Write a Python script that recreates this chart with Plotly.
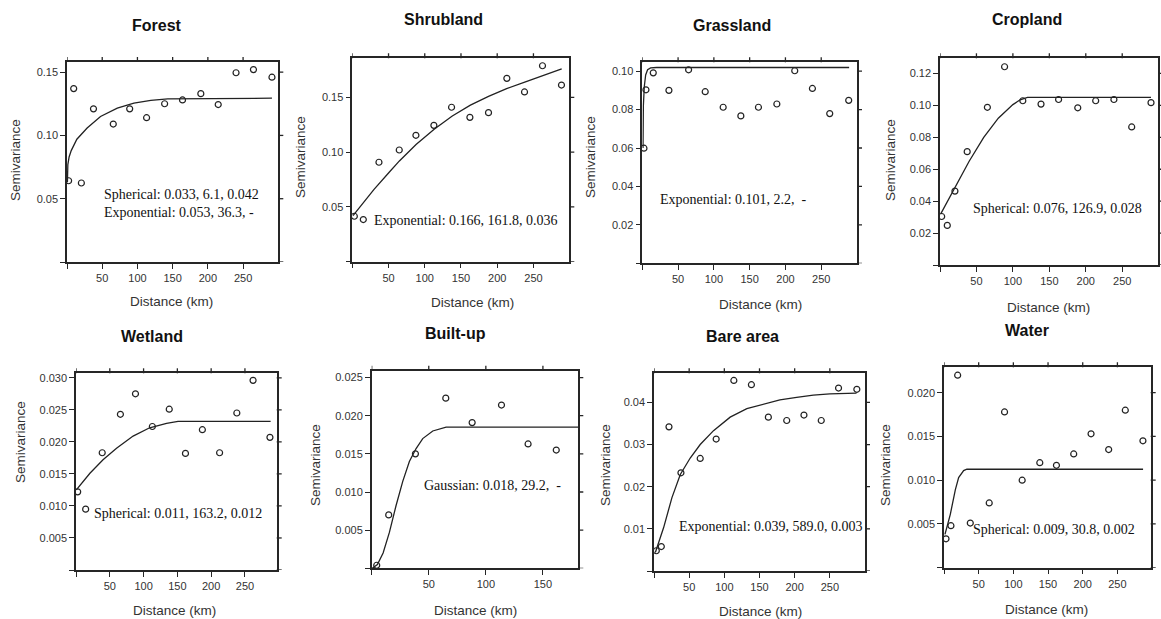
import plotly.graph_objects as go

W, H = 1161, 619

# ---------------- data ----------------
titles = ["Forest", "Shrubland", "Grassland", "Cropland",
          "Wetland", "Built-up", "Bare area", "Water"]

model_texts = [
    "Spherical: 0.033, 6.1, 0.042<br>Exponential: 0.053, 36.3, -",
    "Exponential: 0.166, 161.8, 0.036",
    "Exponential: 0.101, 2.2,  -",
    "Spherical: 0.076, 126.9, 0.028",
    "Spherical: 0.011, 163.2, 0.012",
    "Gaussian: 0.018, 29.2,  -",
    "Exponential: 0.039, 589.0, 0.003",
    "Spherical: 0.009, 30.8, 0.002",
]

forest_dist = [2.3, 9.5, 20.4, 37.6, 65.7, 89, 113, 138.6, 164, 190, 214.7, 240, 264.7, 291]
forest_gamma = [0.0642, 0.137, 0.0624, 0.121, 0.109, 0.121, 0.114, 0.125, 0.128, 0.133, 0.1244, 0.1495, 0.152, 0.146]
forest_line_d = [0.6, 1.2, 3, 6, 14, 28.6, 47.6, 71.4, 95, 119, 143, 171, 291]
forest_line_g = [0.063, 0.077, 0.083, 0.088, 0.097, 0.1058, 0.115, 0.1216, 0.1255, 0.1277, 0.1288, 0.129, 0.1294]

shrub_dist = [2.8, 15.2, 36.8, 64.8, 87.8, 112.6, 137, 162.3, 188, 213.3, 237.7, 262.5, 288.7]
shrub_gamma = [0.0415, 0.0385, 0.0908, 0.102, 0.1154, 0.1245, 0.141, 0.1318, 0.1361, 0.1674, 0.155, 0.1789, 0.1613]
shrub_line_d = [1, 15, 30, 50, 65, 88, 113, 138, 163, 188, 213, 238, 263, 289]
shrub_line_g = [0.042, 0.054, 0.066, 0.081, 0.092, 0.107, 0.121, 0.133, 0.143, 0.151, 0.158, 0.164, 0.170, 0.176]

grass_dist = [2.3, 5.1, 15.3, 37.2, 64.7, 87.9, 113, 137.7, 162.3, 188, 213, 237.7, 261.9, 288.4]
grass_gamma = [0.0599, 0.0903, 0.0991, 0.09, 0.1007, 0.0893, 0.0812, 0.0767, 0.0812, 0.0829, 0.1002, 0.091, 0.0779, 0.0848]
grass_line_d = [1.0, 1.5, 2.8, 4.7, 7.4, 11.6, 20, 289]
grass_line_g = [0.060, 0.082, 0.092, 0.098, 0.1007, 0.1017, 0.1019, 0.1019]

crop_dist = [2.3, 10, 20.5, 37.3, 65, 88.6, 113.6, 138.6, 162.7, 189, 213.6, 238.6, 263, 289.5]
crop_gamma = [0.0304, 0.0248, 0.0463, 0.071, 0.0988, 0.1242, 0.1029, 0.1008, 0.1037, 0.0985, 0.1029, 0.1037, 0.0865, 0.1017]
crop_line_d = [1, 20, 40, 60, 80, 100, 110, 120, 289.5]
crop_line_g = [0.032, 0.048, 0.065, 0.080, 0.092, 0.1005, 0.1035, 0.105, 0.105]

wet_dist = [2.5, 14.3, 38.8, 65.7, 88, 113, 138, 162, 187, 212.5, 238, 262, 287]
wet_gamma = [0.0122, 0.0095, 0.0183, 0.0243, 0.0275, 0.0224, 0.0251, 0.0182, 0.0219, 0.0183, 0.0245, 0.0296, 0.0207]
wet_line_d = [0.5, 20.6, 40, 60, 84.5, 109, 134, 151, 288]
wet_line_g = [0.0125, 0.0151, 0.0172, 0.0190, 0.0209, 0.0222, 0.0229, 0.0232, 0.0232]

built_dist = [4.4, 14.9, 38.3, 64.9, 88, 113.7, 137, 161.7]
built_gamma = [0.0004, 0.0070, 0.0150, 0.0223, 0.0191, 0.0214, 0.0163, 0.0155]
built_line_d = [0.5, 5, 10, 15.5, 21.3, 27.2, 33, 38.9, 44.7, 53.5, 65.2, 181]
built_line_g = [0.0000, 0.0005, 0.0020, 0.0047, 0.0082, 0.0114, 0.0140, 0.0157, 0.0170, 0.0180, 0.0185, 0.0185]

bare_dist = [3.3, 10.4, 21.3, 38.3, 65.7, 88.4, 113.5, 138.5, 162.6, 188.7, 213.2, 237.8, 262.4, 288.4]
bare_gamma = [0.0048, 0.0058, 0.0342, 0.0233, 0.0267, 0.0313, 0.0452, 0.0442, 0.0365, 0.0357, 0.0370, 0.0357, 0.0434, 0.0431]
bare_line_d = [1.9, 13.7, 25.5, 37.4, 51.5, 65.7, 84.6, 108.3, 132, 155.6, 179, 202.8, 226.5, 250, 288]
bare_line_g = [0.0044, 0.0103, 0.0174, 0.0229, 0.0268, 0.0300, 0.0333, 0.0365, 0.0385, 0.0396, 0.0406, 0.0412, 0.0417, 0.0420, 0.0422]

water_dist = [2.9, 10, 19.7, 37.9, 65.2, 87.3, 112.7, 138.1, 162.1, 187, 212, 237.4, 261.4, 286.8]
water_gamma = [0.0033, 0.0048, 0.0220, 0.0051, 0.0074, 0.0178, 0.0100, 0.0120, 0.0117, 0.0130, 0.0153, 0.0135, 0.0180, 0.0145]
water_line_d = [1.4, 9.1, 16.3, 21.1, 28.3, 33, 287]
water_line_g = [0.0038, 0.0061, 0.0089, 0.0103, 0.0111, 0.01125, 0.01125]

# tick values / labels
x_ticks_300 = [0, 50, 100, 150, 200, 250]
x_ticks_180 = [0, 50, 100, 150]
y_ticks = [
    ([0, 0.05, 0.10, 0.15], ["", "0.05", "0.10", "0.15"]),
    ([0, 0.05, 0.10, 0.15], ["", "0.05", "0.10", "0.15"]),
    ([0, 0.02, 0.04, 0.06, 0.08, 0.10], ["", "0.02", "0.04", "0.06", "0.08", "0.10"]),
    ([0, 0.02, 0.04, 0.06, 0.08, 0.10, 0.12], ["", "0.02", "0.04", "0.06", "0.08", "0.10", "0.12"]),
    ([0, 0.005, 0.010, 0.015, 0.020, 0.025, 0.030], ["", "0.005", "0.010", "0.015", "0.020", "0.025", "0.030"]),
    ([0, 0.005, 0.010, 0.015, 0.020, 0.025], ["", "0.005", "0.010", "0.015", "0.020", "0.025"]),
    ([0, 0.01, 0.02, 0.03, 0.04], ["", "0.01", "0.02", "0.03", "0.04"]),
    ([0, 0.005, 0.010, 0.015, 0.020], ["", "0.005", "0.010", "0.015", "0.020"]),
]

series = [
    (forest_dist, forest_gamma, forest_line_d, forest_line_g),
    (shrub_dist, shrub_gamma, shrub_line_d, shrub_line_g),
    (grass_dist, grass_gamma, grass_line_d, grass_line_g),
    (crop_dist, crop_gamma, crop_line_d, crop_line_g),
    (wet_dist, wet_gamma, wet_line_d, wet_line_g),
    (built_dist, built_gamma, built_line_d, built_line_g),
    (bare_dist, bare_gamma, bare_line_d, bare_line_g),
    (water_dist, water_gamma, water_line_d, water_line_g),
]

# ---------------- layout (pixel geometry) ----------------
boxes = [
    (67, 278.3, 62, 262, [0, 300], [0, 0.158]),
    (352.3, 569.3, 58.3, 261.7, [0, 299.5], [0, 0.1857]),
    (642.3, 857, 62.3, 263.3, [0, 300], [0, 0.1046]),
    (940, 1158.3, 58.3, 265, [0, 299.5], [0, 0.1295]),
    (76, 276.7, 373.3, 570, [0, 297], [0, 0.0307]),
    (371.7, 578.3, 370.7, 568.3, [0, 181], [0, 0.0259]),
    (654, 865, 373.3, 571, [0, 300], [0, 0.0469]),
    (944, 1150.7, 367.3, 567.7, [0, 298], [0, 0.0229]),
]
title_pos = [(156.7, 25), (443.3, 20), (731.7, 25), (1026.7, 20),
             (151.7, 336.7), (455, 333.3), (742.7, 336.7), (1026.7, 330)]
xlabel_pos = [(171.7, 301.7), (472.7, 302.7), (760, 305), (1048, 307),
              (175, 610), (475, 610), (760, 611), (1046.7, 609)]
ylabel_pos = [(15, 160), (300, 157), (590, 157), (890, 160),
              (20, 442), (315, 465), (605, 465), (885, 465)]
text_pos = [(101.7, 203.5), (371.7, 220.7), (657.7, 199.3), (970.7, 208.3),
            (91.7, 513.3), (421.7, 485), (676.7, 526.7), (970.7, 529)]

INK = "#222222"
AXC = "#262626"
TICKLEN = 5
SANS = "Liberation Sans, Arial, sans-serif"
SERIF = "Liberation Serif, Times New Roman, serif"

fig = go.Figure()
layout = dict(
    width=W, height=H, margin=dict(l=0, r=0, t=0, b=0),
    paper_bgcolor="white", plot_bgcolor="white", showlegend=False,
)
annotations = []
shapes = []


def px(x):
    return x / W


def py(y):
    return 1 - y / H


for i in range(8):
    L, R, T, B, xr, yr = boxes[i]
    d, g, ld, lg = series[i]
    k = "" if i == 0 else str(i + 1)
    xa, ya = "x" + k, "y" + k
    fig.add_trace(go.Scatter(x=ld, y=lg, mode="lines", xaxis=xa, yaxis=ya,
                             line=dict(color=INK, width=1.3), hoverinfo="skip"))
    fig.add_trace(go.Scatter(x=d, y=g, mode="markers", xaxis=xa, yaxis=ya,
                             marker=dict(symbol="circle-open", size=6, color=INK,
                                         line=dict(width=1.2, color=INK)),
                             cliponaxis=False))
    xt = x_ticks_180 if i == 5 else x_ticks_300
    yv, yt = y_ticks[i]
    common = dict(showline=True, linecolor=AXC, linewidth=1.5, mirror=True,
                  ticks="outside", ticklen=TICKLEN, tickwidth=1.3, tickcolor=AXC,
                  showgrid=False, zeroline=False, automargin=False,
                  tickfont=dict(family=SANS, size=11, color="#333333"))
    layout["xaxis" + k] = dict(domain=[px(L), px(R)], range=xr, anchor=ya,
                               tickvals=xt, ticktext=[("" if v == 0 else str(v)) for v in xt],
                               **common)
    layout["yaxis" + k] = dict(domain=[py(B), py(T)], range=yr, anchor=xa,
                               tickvals=yv, ticktext=yt, **common)
    # mirrored tick marks on the top and right edges (lattice style)
    hpx, wpx = (B - T), (R - L)
    for v in xt:
        shapes.append(dict(type="line", xref=xa, yref=ya + " domain",
                           x0=v, x1=v, y0=1, y1=1 + TICKLEN / hpx,
                           line=dict(color=AXC, width=1.3), layer="above"))
    for v in yv:
        shapes.append(dict(type="line", xref=xa + " domain", yref=ya,
                           x0=1, x1=1 + TICKLEN / wpx, y0=v, y1=v,
                           line=dict(color=AXC, width=1.3), layer="above"))
    tx, ty = title_pos[i]
    annotations.append(dict(text="<b>" + titles[i] + "</b>", x=px(tx), y=py(ty),
                            xref="paper", yref="paper", showarrow=False,
                            xanchor="center", yanchor="middle",
                            font=dict(family=SANS, size=16, color="#111111")))
    lx, ly = xlabel_pos[i]
    annotations.append(dict(text="Distance (km)", x=px(lx), y=py(ly),
                            xref="paper", yref="paper", showarrow=False,
                            xanchor="center", yanchor="middle",
                            font=dict(family=SANS, size=13.5, color="#333333")))
    vx, vy = ylabel_pos[i]
    annotations.append(dict(text="Semivariance", x=px(vx), y=py(vy),
                            xref="paper", yref="paper", showarrow=False,
                            xanchor="center", yanchor="middle", textangle=-90,
                            font=dict(family=SANS, size=13.5, color="#333333")))
    mx, my = text_pos[i]
    annotations.append(dict(text=model_texts[i], x=px(mx), y=py(my),
                            xref="paper", yref="paper", showarrow=False,
                            xanchor="left", yanchor="middle", align="left",
                            font=dict(family=SERIF, size=14, color="#111111")))

layout["annotations"] = annotations
layout["shapes"] = shapes
fig.update_layout(**layout)
fig.write_html("out.html")
